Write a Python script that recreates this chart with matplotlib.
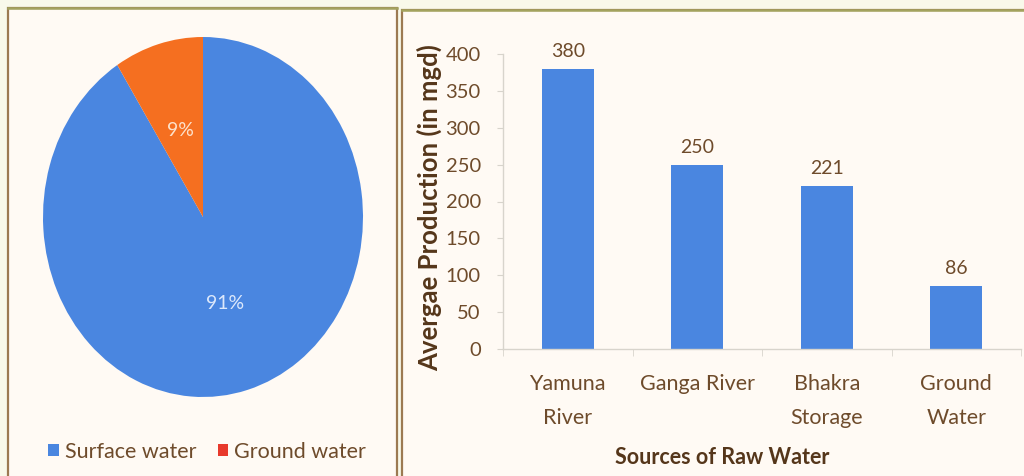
import numpy as np
import matplotlib
matplotlib.use("Agg")
import matplotlib.pyplot as plt
from matplotlib.patches import Rectangle, Patch

BG     = "#f9f9ea"
PANEL  = "#fffaf4"
BORDER = "#9c7a52"
TOPLN  = "#a3a35e"
BLUE   = "#4a86e0"
ORANGE = "#f56f20"
RED    = "#e8392c"
TEXT   = "#6e4b2b"
DARK   = "#55361a"
AXIS   = "#d8d4cc"

plt.rcParams["font.family"] = ["Lato", "DejaVu Sans"]

# share of raw water by type
pie_labels = ["Surface water", "Ground water"]
pie_values = [91, 9]
pie_colors = [BLUE, ORANGE]
legend_colors = [BLUE, RED]

# average production per source
sources = ["Yamuna\nRiver", "Ganga River", "Bhakra\nStorage", "Ground\nWater"]
production = [380, 250, 221, 86]

W, H = 1024, 476
fig = plt.figure(figsize=(W / 100, H / 100), dpi=100, facecolor=BG)


def px_rect(x0, y0, x1, y1):
    # pixel box (top-left origin) -> figure fraction rect
    return [x0 / W, 1 - y1 / H, (x1 - x0) / W, (y1 - y0) / H]


# ── panel frames ───────────────────────────────────────────────────────────
for x0, y0, x1, y1 in [(8, 8, 397, 490), (402, 10, 1040, 490)]:
    r = px_rect(x0, y0, x1, y1)
    fig.patches.append(Rectangle((r[0], r[1]), r[2], r[3], transform=fig.transFigure,
                                 facecolor=PANEL, edgecolor=BORDER, linewidth=1.6,
                                 zorder=-5))
    fig.lines.append(plt.Line2D([r[0], r[0] + r[2]], [r[1] + r[3]] * 2,
                                transform=fig.transFigure, color=TOPLN,
                                linewidth=1.8, zorder=-4))

# ── pie ────────────────────────────────────────────────────────────────────
ax_pie = fig.add_axes(px_rect(43, 37, 363, 397))
wedges, _, autotexts = ax_pie.pie(
    pie_values, colors=pie_colors, startangle=90, counterclock=False,
    autopct=lambda p: f"{p:.0f}%", pctdistance=0.5,
    wedgeprops=dict(linewidth=0),
)
autotexts[0].set_color("#dce8fb")
autotexts[1].set_color("#fde2cc")
for t in autotexts:
    t.set_fontsize(14)
ax_pie.set_aspect("auto")
ax_pie.set_xlim(-1, 1)
ax_pie.set_ylim(-1, 1)
ax_pie.axis("off")

handles = [Patch(facecolor=c, edgecolor="none") for c in legend_colors]
fig.legend(handles, pie_labels, loc="center", bbox_to_anchor=(207 / W, 1 - 452 / H),
           ncol=2, frameon=False, fontsize=15.5, labelcolor=TEXT,
           handlelength=0.5, handleheight=0.5, handletextpad=0.25,
           columnspacing=1.0)

# ── bars ───────────────────────────────────────────────────────────────────
ax_bar = fig.add_axes(px_rect(503, 54, 1021, 349))
ax_bar.set_facecolor("none")
x = np.arange(len(sources))
bars = ax_bar.bar(x, production, width=0.4, color=BLUE, edgecolor="none")
for xi, v in zip(x, production):
    ax_bar.text(xi, v + 12, f"{v}", ha="center", va="bottom", fontsize=14, color=TEXT)

ax_bar.set_xlim(-0.5, len(sources) - 0.5)
ax_bar.set_ylim(0, 400)
ax_bar.set_yticks(range(0, 401, 50))
ax_bar.set_xticks(x)
ax_bar.set_xticklabels(sources, fontsize=15.5, color=TEXT, linespacing=1.85)
ax_bar.set_xticks(np.arange(-0.5, len(sources)), minor=True)
ax_bar.tick_params(axis="x", which="major", length=0, pad=18)
ax_bar.tick_params(axis="x", which="minor", length=5, color=AXIS)
ax_bar.tick_params(axis="y", length=4, color=AXIS, labelsize=14.5, labelcolor=TEXT, pad=12)
for side in ("top", "right"):
    ax_bar.spines[side].set_visible(False)
for side in ("left", "bottom"):
    ax_bar.spines[side].set_color(AXIS)
    ax_bar.spines[side].set_linewidth(1)

ax_bar.set_ylabel("Avergae Production (in mgd)", fontsize=18.5, fontweight="bold", color=DARK)
ax_bar.yaxis.set_label_coords(-0.118, 0.48)
fig.text(722 / W, 1 - 458 / H, "Sources of Raw Water", ha="center", va="center",
         fontsize=15.5, fontweight="bold", color=DARK)

fig.savefig("out.png", dpi=100, facecolor=BG)
